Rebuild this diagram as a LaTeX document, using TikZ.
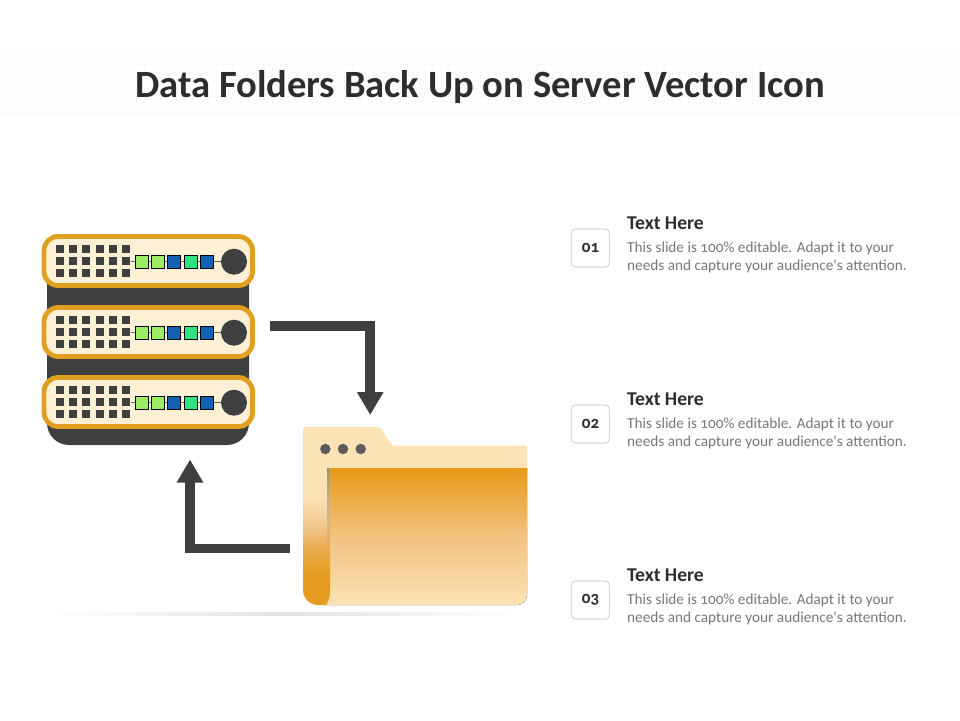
\documentclass[tikz,border=0pt]{standalone}
\usepackage{fontspec}
\setmainfont{Carlito}
\newfontfamily\notefont[Numbers=OldStyle]{Carlito}
\usepackage{xcolor}
\usetikzlibrary{positioning,arrows.meta,fadings}

\definecolor{rackdark}{HTML}{3F3F3F}
\definecolor{unitedge}{HTML}{E09F1F}
\definecolor{unitfill}{HTML}{FDF0D5}
\definecolor{ledgreen}{HTML}{9BEE63}
\definecolor{ledblue}{HTML}{1560B0}
\definecolor{ledmint}{HTML}{2EE27F}
\definecolor{foldlight}{HTML}{FBE3B6}
\definecolor{foldsoft}{HTML}{EFC487}
\definecolor{foldmid}{HTML}{E8AB50}
\definecolor{folddeep}{HTML}{E59C20}
\definecolor{frontdeep}{HTML}{E89A17}
\definecolor{frontmid}{HTML}{F2C280}
\definecolor{titleink}{HTML}{2D2D2D}
\definecolor{bodyink}{HTML}{777777}

\pgfdeclareverticalshading{foldshade}{100bp}{color(0bp)=(folddeep); color(36bp)=(folddeep); color(46bp)=(foldmid); color(53bp)=(foldsoft); color(64bp)=(foldlight); color(100bp)=(foldlight)}

\tikzset{
    unitbox/.style={draw=unitedge, fill=unitfill, line width=4.8pt, rounded corners=14pt},
    holebox/.style={fill=rackdark, inner sep=0pt, minimum size=8.8pt},
    ledbox/.style={draw=black, line width=0.9pt, inner sep=0pt, minimum size=13pt},
    knobnode/.style={circle, fill=rackdark, inner sep=0pt, minimum size=26pt},
    wirelink/.style={draw=rackdark!80, line width=0.7pt},
    flowarrow/.style={draw=rackdark, line width=9.5pt, -{Triangle[length=23pt,width=25pt]}},
    dotnode/.style={circle, fill=rackdark!85, inner sep=0pt, minimum size=10.5pt},
    numbox/.style={draw=black!14, line width=1.3pt, fill=white, rounded corners=4pt, minimum size=38pt, inner sep=0pt, font=\notefont\fontsize{17}{17}\selectfont\bfseries, text=titleink},
    headnode/.style={anchor=west, inner sep=0pt, font=\fontsize{19.6}{22}\selectfont\bfseries, text=titleink},
    bodynode/.style={anchor=west, inner sep=0pt, align=left, font=\notefont\fontsize{15.25}{17.3}\selectfont, text=bodyink}
}

\begin{document}
\begin{tikzpicture}[x=1pt, y=-1pt]
    \useasboundingbox (0,0) rectangle (960,720);

    % title band
    \draw[black!2.5, line width=0.5pt, step=8pt] (0,48) grid (960,118);
    \node[font=\fontsize{38.6}{42}\selectfont\bfseries, text=titleink] (title) at (480,86.5) {Data Folders Back Up on Server Vector Icon};

    % ground shadow
    \shade[left color=white, right color=white, middle color=black!11] (50,612.5) rectangle (520,615);

    % server
    \fill[rackdark] (47,270) -- (249,270) [rounded corners=22pt] -- (249,445) -- (47,445) [sharp corners] -- cycle;
    \foreach \u/\cy in {a/261, b/332, c/402} {
        \draw[unitbox] (44,\cy-24.5) rectangle (252.5,\cy+24.5);
        \foreach \c/\cx in {1/60, 2/73, 3/86, 4/100, 5/113, 6/126} {
            \node[holebox] (hole\u\c t) at (\cx,\cy-12) {};
            \node[holebox] (hole\u\c) at (\cx,\cy) {};
            \node[holebox] (hole\u\c b) at (\cx,\cy+12) {};
        }
        \foreach \i/\lx/\lc in {1/142/ledgreen, 2/158/ledgreen, 3/174/ledblue, 4/191/ledmint, 5/207/ledblue} {
            \node[ledbox, fill=\lc] (led\u\i) at (\lx,\cy+0.7) {};
        }
        \node[knobnode] (knob\u) at (234,\cy+0.7) {};
        \draw[wirelink] (hole\u6.east |- led\u1) -- (led\u1);
        \draw[wirelink] (led\u1) -- (led\u2);
        \draw[wirelink] (led\u2) -- (led\u3);
        \draw[wirelink] (led\u3) -- (led\u4);
        \draw[wirelink] (led\u4) -- (led\u5);
        \draw[wirelink] (led\u5) -- (knob\u);
        \foreach \i/\lc in {1/ledgreen, 2/ledgreen, 3/ledblue, 4/ledmint, 5/ledblue} {
            \node[ledbox, fill=\lc] at (led\u\i) {};
        }
    }

    % folder
    \fill[foldlight, rounded corners=2pt] (303,427) -- (380,427) -- (392,445.5) -- (527,445.5) -- (527,480) -- (303,480) -- cycle;
    \fill[top color=frontdeep, bottom color=foldlight, middle color=frontmid]
        (330,468) -- (527,468) -- (527,595) arc[start angle=0, end angle=90, radius=10] -- (326,605) .. controls (329,600) and (330,596) .. (330,588) -- cycle;
    \shade[shading=foldshade]
        (303,468) -- (330,468) -- (330,588) .. controls (330,596) and (329,600) .. (326,605) -- (318,605) arc[start angle=90, end angle=180, radius=15] -- cycle;
    \fill[black!70!brown, opacity=0.45, path fading=south] (326.5,468) rectangle (330,545);
    \node[dotnode] (dota) at (325.3,449) {};
    \node[dotnode] (dotb) at (343,449) {};
    \node[dotnode] (dotc) at (360.7,449) {};

    % arrows
    \coordinate (backstart) at (270,325.8);
    \coordinate (backend) at (370.2,415);
    \coordinate (restorestart) at (290,548.5);
    \coordinate (restoreend) at (190,459.5);
    \draw[flowarrow] (backstart) -- (backstart -| backend) -- (backend);
    \draw[flowarrow] (restorestart) -- (restorestart -| restoreend) -- (restoreend);

    % notes
    \foreach \n/\lbl/\ny in {a/01/248, b/02/424, c/03/600} {
        \node[numbox] (num\n) at (590.5,\ny) {\lbl};
        \node[headnode] (head\n) at (627,\ny-25) {Text Here};
        \node[bodynode] (body\n) at (627,\ny+9.3) {This slide is 100\% editable. Adapt it to your\\needs and capture your audience's attention.};
    }
\end{tikzpicture}
\end{document}
